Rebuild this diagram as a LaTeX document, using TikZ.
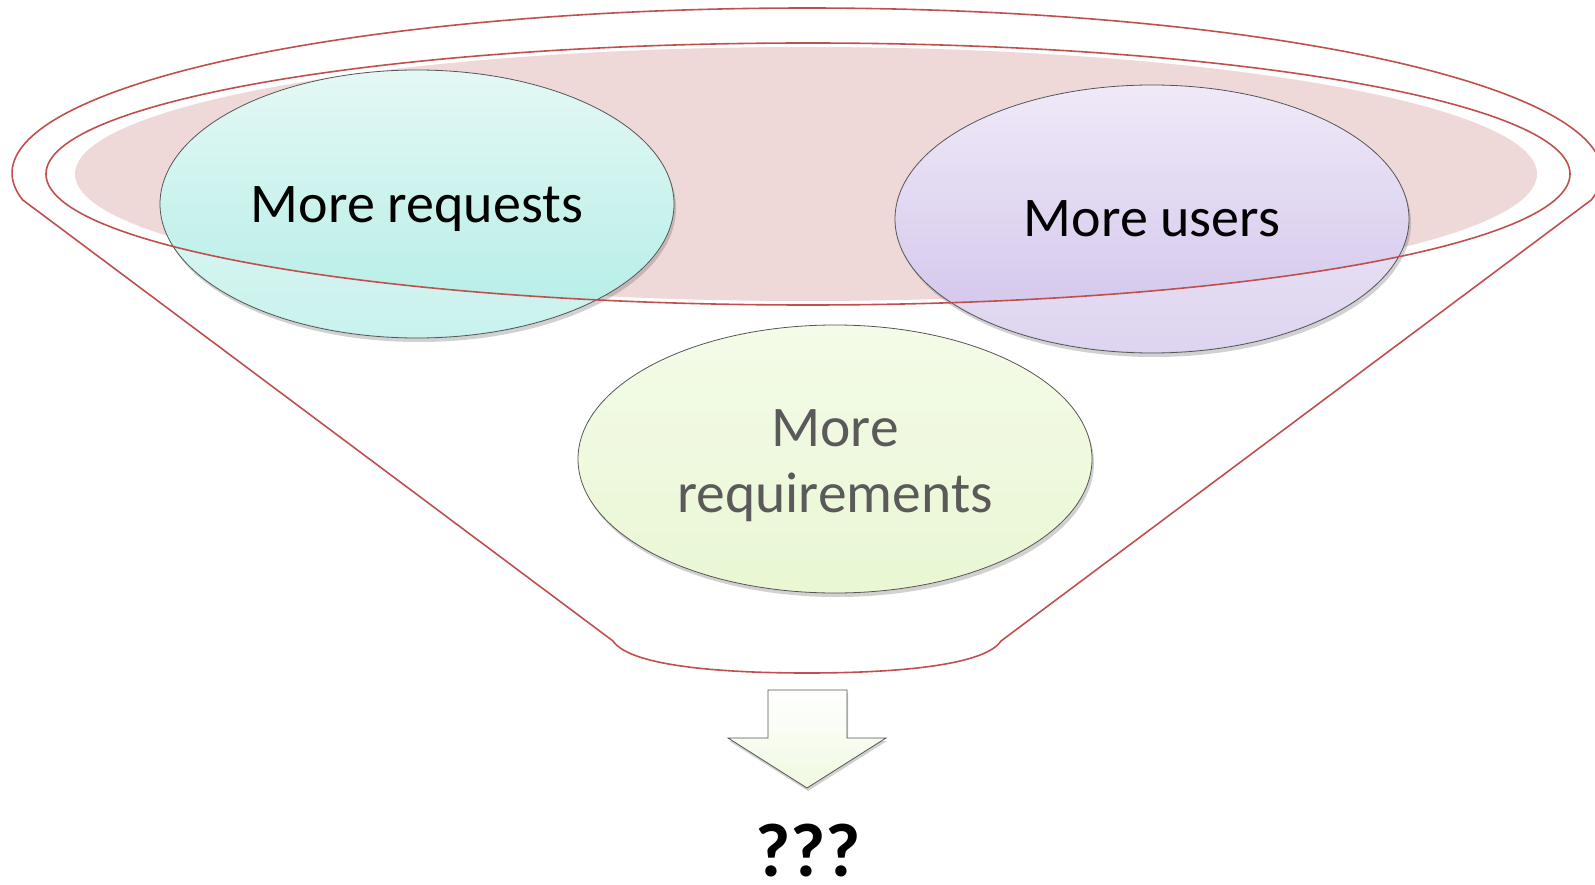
\documentclass[tikz,border=0pt]{standalone}
\usepackage{fontspec}
\setmainfont{Carlito}
\usetikzlibrary{shapes.geometric,shadows}
\definecolor{funnelred}{HTML}{C0504D}
\definecolor{pinkfill}{HTML}{EFD8D8}
\definecolor{cyantop}{HTML}{E4F8F5}
\definecolor{cyanbot}{HTML}{B2EDE6}
\definecolor{purptop}{HTML}{EFE9F8}
\definecolor{purpbot}{HTML}{D0C2EA}
\definecolor{greentop}{HTML}{F4FBE8}
\definecolor{greenbot}{HTML}{E9F7D4}
\definecolor{reqgray}{HTML}{5A5A5A}
\definecolor{edgegray}{HTML}{555555}
\tikzset{
  bubble/.style={ellipse, draw=edgegray, line width=0.8pt, minimum width=514pt, minimum height=268pt, inner sep=0pt,
    drop shadow={shadow xshift=2pt, shadow yshift=-4pt, opacity=0.3, fill=black!60}},
  redline/.style={draw=funnelred, line width=1.6pt},
  bigtext/.style={font=\fontsize{56}{62}\selectfont, text=black},
}
\begin{document}
\begin{tikzpicture}[x=1pt,y=-1pt]
\useasboundingbox (0,0) rectangle (1595,885);
% pink filled ellipse
\fill[pinkfill] (806,174) ellipse [x radius=731, y radius=127];
% bubbles
\node[bubble, top color=cyantop, bottom color=cyanbot] (req) at (417,204) {};
\node[bubble, top color=purptop, bottom color=purpbot] (usr) at (1152,219) {};
\node[bubble, top color=greentop, bottom color=greenbot] (reqs) at (835,459) {};
% lighter parts of the bubbles outside the inner ellipse
\begin{scope}[even odd rule]
  \clip (808,174) ellipse [x radius=762, y radius=131] (0,0) rectangle (1595,885);
  \fill[white, opacity=0.3] (req.center) ellipse [x radius=256, y radius=133];
  \fill[white, opacity=0.3] (usr.center) ellipse [x radius=256, y radius=133];
\end{scope}
% texts
\node[bigtext] (reqtxt) at (417,209) {More requests};
\node[bigtext] (usrtxt) at (1152,219) {More users};
\node[font=\fontsize{57.5}{66}\selectfont, text=reqgray, align=center] (reqstxt) at (835,466) {More\\requirements};
% inner red ellipse
\draw[redline] (808,174) ellipse [x radius=762, y radius=131];
% funnel outline
\coordinate (fl) at (613,641);
\coordinate (fr) at (1001,641);
\coordinate (fb) at (807,673);
\draw[redline, line join=round] plot[domain=170.6:369.4, samples=160, smooth] ({807+795*cos(\x)},{173+165*sin(\x)})
  -- (fr) .. controls (985,665) and (900,673) .. (fb)
  .. controls (714,673) and (629,665) .. (fl) -- cycle;
% arrow
\draw[edgegray, line width=0.8pt, top color=white, bottom color=greenbot!70,
  drop shadow={shadow xshift=1pt, shadow yshift=-3pt, opacity=0.3, fill=black!60}]
  (768,690) -- (847,690) -- (847,738) -- (886,738) -- (807,788) -- (728,738) -- (768,738) -- cycle;
% question marks
\node[font=\fontsize{76}{78}\selectfont\bfseries, text depth=0pt, inner sep=1pt] (q) at (808,850) {???};
\end{tikzpicture}
\end{document}
